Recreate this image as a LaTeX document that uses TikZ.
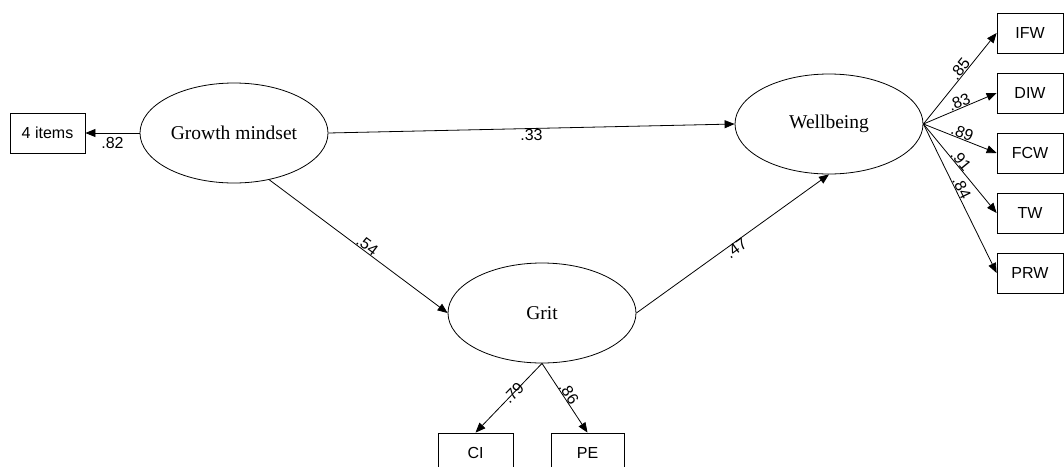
\documentclass[tikz,border=0pt]{standalone}
\usepackage{fontspec}
\setmainfont{Liberation Serif}
\newfontfamily\arialf{Liberation Sans}
\usetikzlibrary{shapes.geometric,arrows.meta}
\begin{document}
\begin{tikzpicture}[x=1pt,y=-1pt,
  latent/.style={ellipse,draw,line width=0.8pt,minimum width=188pt,minimum height=100pt,inner sep=0pt,font=\fontsize{19.5}{22}\selectfont},
  obs/.style={rectangle,draw,line width=0.8pt,minimum width=75pt,minimum height=40pt,inner sep=0pt,font=\arialf\fontsize{16}{18}\selectfont},
  obsr/.style={obs,minimum width=66pt},
  sempath/.style={draw,line width=0.8pt,-{Triangle[length=10pt,width=8pt]}},
  coef/.style={font=\arialf\fontsize{16}{18}\selectfont,inner sep=0pt}]
\useasboundingbox (0,0) rectangle (1064,466);
\begin{scope}
\clip (0,0) rectangle (1064,466);
\node[latent] (gm) at (234,133) {Growth mindset};
\node[latent] (wb) at (829,124) {Wellbeing};
\node[latent] (grit) at (542,313) {Grit};
\node[obs] (items) at (47.5,133) {4 items};
\node[obsr] (ifw) at (1030,33) {IFW};
\node[obsr] (diw) at (1030,93) {DIW};
\node[obsr] (fcw) at (1030,153) {FCW};
\node[obsr] (tw) at (1030,213) {TW};
\node[obsr] (prw) at (1030,273) {PRW};
\node[obs] (ci) at (475.5,453) {CI};
\node[obs,minimum width=73pt] (pe) at (587.5,453) {PE};

\draw[sempath] (gm.west) -- node[coef,pos=0.5,below=4pt]{.82} (items.east);
\draw[sempath] (gm.east) -- node[coef,pos=0.5,anchor=north]{.33} (wb.west);
\draw[sempath] (gm.-53) -- node[coef,pos=0.53,sloped,anchor=south]{.54} (grit.west);
\draw[sempath] (grit.east) -- node[coef,pos=0.5,sloped,anchor=north]{.47} (wb.south);
\draw[sempath] (grit.south) -- node[coef,pos=0.43,sloped,anchor=center]{.79} (ci.north);
\draw[sempath] (grit.south) -- node[coef,pos=0.48,sloped,anchor=south]{.86} (pe.north);
\draw[sempath] (wb.east) -- node[coef,pos=0.56,sloped,anchor=south]{.85} (ifw.west);
\draw[sempath] (wb.east) -- node[coef,pos=0.52,sloped,anchor=south]{.83} (diw.west);
\draw[sempath] (wb.east) -- node[coef,pos=0.5,sloped,anchor=south]{.89} (fcw.west);
\draw[sempath] (wb.east) -- node[coef,pos=0.45,sloped,anchor=south]{.91} (tw.west);
\draw[sempath] (wb.east) -- node[coef,pos=0.45,sloped,anchor=south]{.84} (prw.west);
\end{scope}
\end{tikzpicture}
\end{document}
